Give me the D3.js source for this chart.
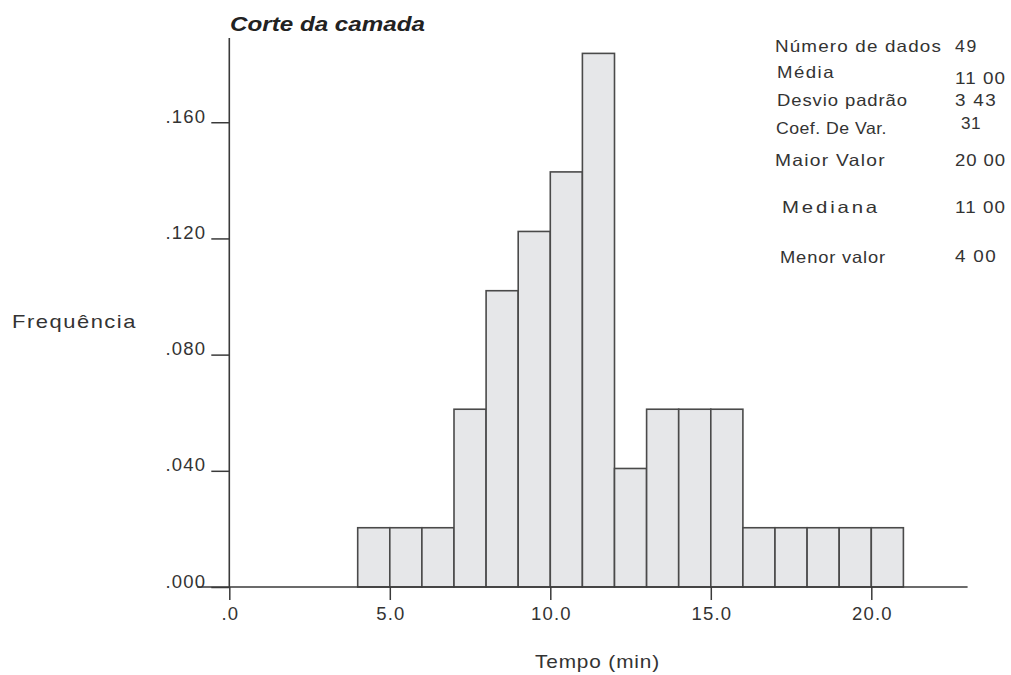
<!DOCTYPE html>
<html><head><meta charset="utf-8">
<script src="https://cdn.jsdelivr.net/npm/d3@7"></script>
<style>
html,body{margin:0;padding:0;background:#fff;}
svg{display:block;font-family:"Liberation Sans",Arial,sans-serif;}
</style></head>
<body><svg id="c" width="1011" height="675"></svg>
<script>
// ---- data ----
const binStarts = [4,5,6,7,8,9,10,11,12,13,14,15,16,17,18,19,20];
const frequencies = [0.0204,0.0204,0.0204,0.0612,0.1020,0.1224,0.1429,0.1837,0.0408,0.0612,0.0612,0.0612,0.0204,0.0204,0.0204,0.0204,0.0204];
const binWidth = 1;
const xMajorTicks = [0,5,10,15,20];
const xTickLabels = [".0","5.0","10.0","15.0","20.0"];
const yMajorTicks = [0,0.04,0.08,0.12,0.16];
const yTickLabels = [".000",".040",".080",".120",".160"];
const statLabels = ["Número de dados","Média","Desvio padrão","Coef. De Var.","Maior Valor","Mediana","Menor valor"];
const statValues = ["49","11 00","3 43","31","20 00","11 00","4 00"];
const title = "Corte da camada";
const xTitle = "Tempo (min)";
const yTitle = "Frequência";

// ---- layout ----
const svg = d3.select("#c");
const x = d3.scaleLinear().domain([0,23]).range([229.3,967.6]);
const y = d3.scaleLinear().domain([0,0.189]).range([587,38]);
const ink = "#3a3a3a";
const FONT = "'Liberation Sans',Arial,sans-serif";

// bars
svg.append("g").selectAll("rect").data(binStarts).join("rect")
  .attr("x",d=>x(d)).attr("width",d=>x(d+binWidth)-x(d))
  .attr("y",(d,i)=>y(frequencies[i])).attr("height",(d,i)=>y(0)-y(frequencies[i]))
  .attr("fill","#e6e7e9").attr("stroke","#4a4a4a").attr("stroke-width",1.6);

// x axis
const xMinor = d3.range(0,24).filter(v=>xMajorTicks.indexOf(v)<0);
const gx = svg.append("g").attr("transform",`translate(0,${y(0)})`);
gx.call(d3.axisBottom(x).tickValues(xMinor).tickSize(6).tickFormat(""));
gx.call(d3.axisBottom(x).tickValues(xMajorTicks).tickSize(13).tickPadding(7)
  .tickFormat((d,i)=>xTickLabels[i]));
gx.attr("font-family",FONT);
gx.selectAll(".domain").remove();
gx.append("line").attr("x1",x(-1)).attr("x2",x(23)).attr("stroke",ink).attr("stroke-width",1.6);
gx.selectAll(".tick line").attr("stroke",ink).attr("stroke-width",1.5);
gx.selectAll(".tick text").attr("fill","#333").attr("font-size",18.5)
  .attr("letter-spacing","1.2px").attr("dx","0.6px").attr("dy","0.72em");

// y axis
const yMinor = d3.range(0,19).map(v=>v/100).filter(v=>yMajorTicks.every(m=>Math.abs(m-v)>1e-9));
const gy = svg.append("g").attr("transform",`translate(${x(0)},0)`);
gy.call(d3.axisLeft(y).tickValues(yMinor).tickSize(10).tickFormat(""));
gy.call(d3.axisLeft(y).tickValues(yMajorTicks).tickSize(18).tickPadding(5)
  .tickFormat((d,i)=>yTickLabels[i]));
gy.attr("font-family",FONT);
gy.selectAll(".domain").remove();
gy.append("line").attr("y1",y(0.189)).attr("y2",y(0)).attr("stroke",ink).attr("stroke-width",1.6);
gy.selectAll(".tick line").attr("stroke",ink).attr("stroke-width",1.5);
gy.selectAll(".tick text").attr("fill","#333").attr("font-size",18.5)
  .attr("letter-spacing","1.2px").attr("dy","0");

// text helper: spread the extra width partly as spacing, partly as wider glyphs
function txt(s,xp,yp,size,len,opts={}){
  const t = svg.append("text").attr("x",xp).attr("y",yp).attr("font-size",size)
    .attr("fill",opts.fill||"#333").text(s);
  if(opts.weight) t.attr("font-weight",opts.weight);
  if(opts.style) t.attr("font-style",opts.style);
  if(len){
    const w = t.node().getComputedTextLength();
    const extra = len - w;
    if(extra>0 && s.length>1 && !opts.noSpread){
      t.attr("letter-spacing",(extra*0.4/(s.length-1)).toFixed(2)+"px");
    }
    t.attr("textLength",len).attr("lengthAdjust","spacingAndGlyphs");
  }
  return t;
}
txt(title,230,31,20,195,{weight:"bold",style:"italic",fill:"#222",noSpread:true});
txt(yTitle,12,328,19,125);
txt(xTitle,535,668,19,125);

// stats
const labelPos = [[775,52,167],[777,78,58],[777,106,131],[776,134,111],[775,166,111],[782,213,98],[780,263,106]];
const valuePos = [[955,52,23],[955,84,51],[955,106,42],[961,129,20],[955,166,51],[955,213,51],[955,262,42]];
statLabels.forEach((s,i)=>txt(s,labelPos[i][0],labelPos[i][1],16.5,labelPos[i][2]));
statValues.forEach((s,i)=>txt(s,valuePos[i][0],valuePos[i][1],17,valuePos[i][2]));
</script></body></html>
